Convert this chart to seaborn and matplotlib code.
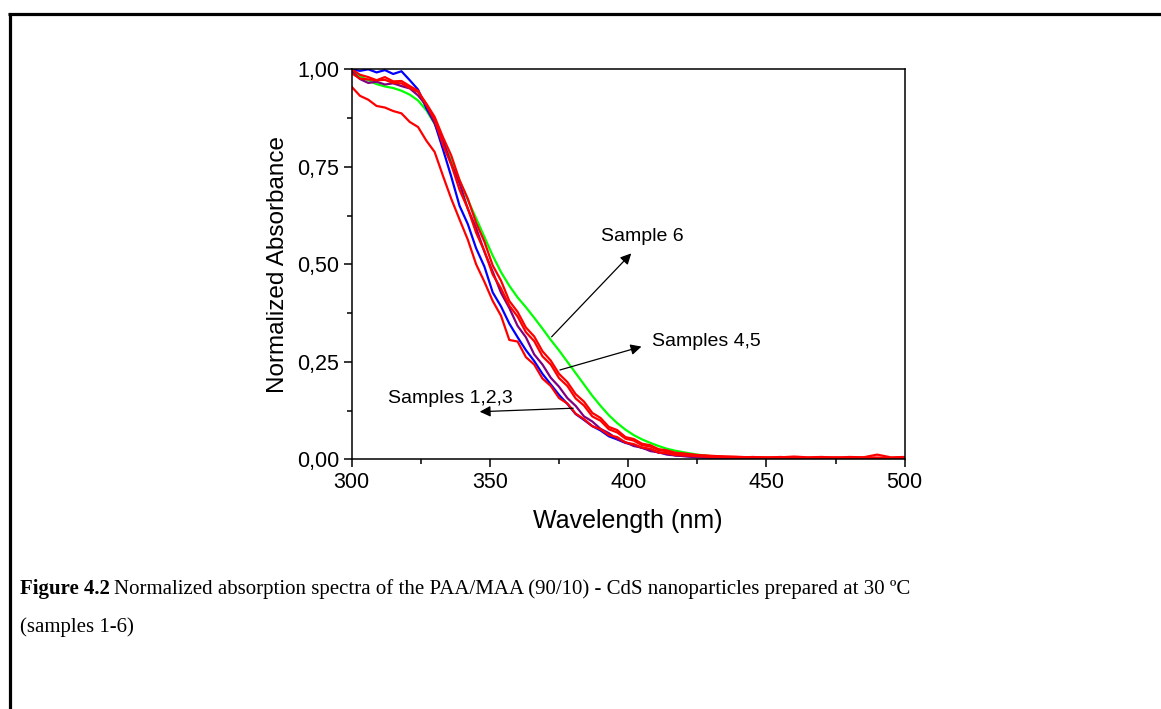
import numpy as np
import pandas as pd
import matplotlib
matplotlib.use("Agg")
import matplotlib.pyplot as plt
from matplotlib.lines import Line2D
from matplotlib.ticker import FuncFormatter, MultipleLocator
import seaborn as sns

# ---------------- data ----------------
wavelength = [300, 303, 306, 309, 312, 315, 318, 321, 324, 327, 330, 333, 336, 339, 342,
              345, 348, 351, 354, 357, 360, 363, 366, 369, 372, 375, 378, 381, 384, 387,
              390, 393, 396, 399, 402, 405, 408, 411, 414, 417, 420,
              425, 430, 435, 440, 445, 450, 455, 460, 465, 470, 475, 480, 485, 490, 495, 500]

sample6_green = [.995, .982, .972, .962, .956, .952, .945, .935, .920, .895, .860, .815, .765, .715, .665,
                 .618, .570, .522, .480, .445, .415, .390, .363, .335, .306, .279, .250, .221, .192, .163,
                 .137, .113, .093, .076, .062, .051, .042, .034, .027, .022, .018,
                 .012, .008, .005, .003, .002, .001, .001, .001, .0, .0, .0, .0, .0, .001, .0, .0]

sample1_blue = [1.0, .996, 1.0, .992, .998, .988, .995, .972, .948, .900, .862, .795, .725, .650, .603,
                .541, .494, .428, .392, .348, .313, .280, .252, .219, .192, .165, .142, .116, .101, .085,
                .074, .059, .051, .042, .037, .029, .025, .017, .015, .010, .009,
                .006, .004, .003, .002, .002, .001, .001, .001, .0, .0, .0, .0, .0, .0, .0, .0]

sample2_purple = [.995, .975, .965, .968, .961, .964, .957, .951, .933, .907, .862, .818, .757, .708, .642,
                  .593, .532, .481, .427, .388, .342, .313, .269, .243, .209, .186, .157, .137, .110, .097,
                  .078, .067, .052, .044, .034, .030, .021, .018, .012, .010, .008,
                  .005, .004, .003, .002, .001, .001, .001, .0, .0, .0, .0, .0, .0, .0, .0, .0]

sample3_red = [.955, .932, .922, .906, .902, .893, .887, .865, .852, .817, .788, .727, .668, .615, .563,
               .500, .455, .406, .368, .306, .302, .262, .243, .207, .188, .157, .143, .117, .103, .085,
               .077, .062, .057, .043, .039, .030, .027, .017, .016, .011, .010,
               .008, .006, .005, .004, .006, .004, .005, .007, .005, .006, .004, .006, .005, .012, .005, .006]

sample4_red = [1.0, .986, .980, .972, .973, .965, .964, .952, .942, .912, .878, .826, .779, .716, .668,
               .606, .558, .497, .458, .406, .378, .338, .315, .277, .253, .219, .198, .167, .148, .119,
               .106, .083, .075, .057, .052, .040, .036, .026, .023, .017, .015,
               .011, .009, .007, .006, .005, .005, .004, .005, .004, .003, .005, .004, .003, .004, .003, .004]

sample5_red = [.990, .976, .974, .972, .980, .969, .970, .957, .945, .909, .871, .806, .756, .691, .643,
               .581, .534, .474, .438, .394, .366, .326, .303, .264, .243, .208, .188, .156, .138, .110,
               .099, .077, .069, .053, .048, .036, .033, .023, .021, .014, .013,
               .010, .008, .007, .006, .005, .004, .006, .004, .003, .005, .004, .003, .005, .004, .003, .004]

series_names = ["Sample 6", "Sample 1", "Sample 2", "Sample 3", "Sample 4", "Sample 5"]
series_values = [sample6_green, sample1_blue, sample2_purple, sample3_red, sample4_red, sample5_red]
series_colors = ["#00FF00", "#0000FF", "#800080", "#FF0000", "#FF0000", "#FF0000"]

x_ticks = [300, 350, 400, 450, 500]
y_ticks = [0.0, 0.25, 0.5, 0.75, 1.0]

df = pd.concat([pd.DataFrame({"wavelength": wavelength, "absorbance": v, "sample": n})
                for n, v in zip(series_names, series_values)], ignore_index=True)

# ---------------- figure ----------------
sns.set_theme(style="white")
plt.rcParams["font.family"] = ["Liberation Sans", "DejaVu Sans"]

W, H = 1161, 709
fig = plt.figure(figsize=(W / 100, H / 100), dpi=100)
ax = fig.add_axes([351.7 / W, 1 - 459.3 / H, (904.7 - 351.7) / W, (459.3 - 69.3) / H])

sns.lineplot(data=df, x="wavelength", y="absorbance", hue="sample",
             hue_order=series_names, palette=dict(zip(series_names, series_colors)),
             linewidth=1.6, legend=False, ax=ax, estimator=None, sort=False)

ax.set_xlim(300, 500)
ax.set_ylim(0, 1.0)
ax.set_xticks(x_ticks)
ax.set_yticks(y_ticks)
ax.xaxis.set_minor_locator(MultipleLocator(25))
ax.yaxis.set_minor_locator(MultipleLocator(0.125))
ax.yaxis.set_major_formatter(FuncFormatter(lambda v, p: f"{v:.2f}".replace(".", ",")))
ax.xaxis.set_major_formatter(FuncFormatter(lambda v, p: f"{v:.0f}"))
ax.tick_params(which="major", direction="out", length=6, width=1.1, labelsize=15.5,
               color="black", labelcolor="black", pad=3, bottom=True, left=True)
ax.tick_params(which="minor", direction="out", length=3.5, width=1.1, color="black",
               bottom=True, left=True)
for s in ax.spines.values():
    s.set_visible(True)
    s.set_color("black")
    s.set_linewidth(1.1)
ax.set_xlabel("Wavelength (nm)", fontsize=18, color="black", labelpad=12)
ax.set_ylabel("Normalized Absorbance", fontsize=17.5, color="black", labelpad=6)
ax.grid(False)

# annotations
arrow_kw = dict(arrowstyle="-|>", color="black", lw=0.9, mutation_scale=16, shrinkA=0, shrinkB=0)
ax.annotate("", xy=(401.1, 0.528), xytext=(372.3, 0.314), arrowprops=arrow_kw)
ax.text(405.0, 0.572, "Sample 6", fontsize=14, ha="center", va="center", color="black")
ax.annotate("", xy=(404.8, 0.289), xytext=(375.3, 0.229), arrowprops=arrow_kw)
ax.text(408.5, 0.302, "Samples 4,5", fontsize=14, ha="left", va="center", color="black")
ax.annotate("", xy=(346.3, 0.122), xytext=(380.1, 0.131), arrowprops=arrow_kw)
ax.text(335.7, 0.155, "Samples 1,2,3", fontsize=14, ha="center", va="center", color="black")

# page frame (top and left rules)
fig.add_artist(Line2D([8 / W, 1.0], [1 - 13.5 / H, 1 - 13.5 / H], transform=fig.transFigure,
                      color="black", lw=2.3, solid_capstyle="butt"))
fig.add_artist(Line2D([9.5 / W, 9.5 / W], [0.0, 1 - 12.5 / H], transform=fig.transFigure,
                      color="black", lw=2.3, solid_capstyle="butt"))

# caption
serif = ["Liberation Serif", "DejaVu Serif"]
cap_size = 15
fig.canvas.draw()
r = fig.canvas.get_renderer()
t1 = fig.text(20 / W, 1 - 589 / H, "Figure 4.2", fontsize=cap_size, fontweight="bold",
              family=serif, ha="left", va="center", color="black")
bb = t1.get_window_extent(renderer=r)
fig.text((bb.x1 + 4) / W, 1 - 589 / H,
         "Normalized absorption spectra of the PAA/MAA (90/10) - CdS nanoparticles prepared at 30 ºC",
         fontsize=cap_size, family=serif, ha="left", va="center", color="black")
fig.text(20 / W, 1 - 627 / H, "(samples 1-6)", fontsize=cap_size, family=serif,
         ha="left", va="center", color="black")

fig.savefig("out.png", dpi=100, facecolor="white")
